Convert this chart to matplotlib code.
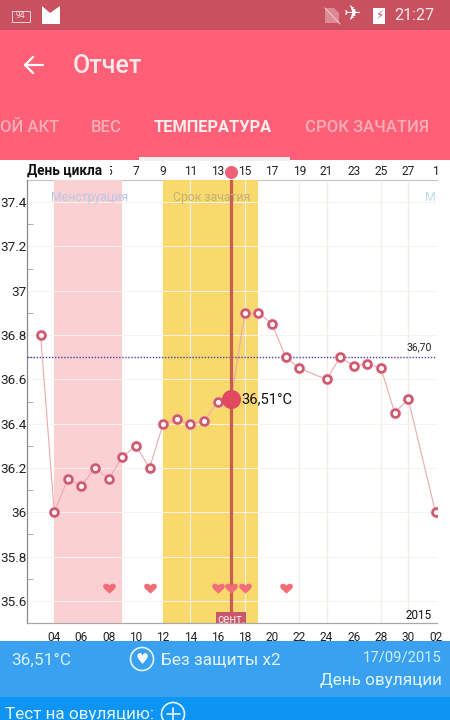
import matplotlib
matplotlib.use("Agg")
import matplotlib.pyplot as plt
from matplotlib.patches import Rectangle, Circle, Polygon
from matplotlib.lines import Line2D
from matplotlib.path import Path
from matplotlib.transforms import IdentityTransform

plt.rcParams['font.family'] = ['Roboto', 'DejaVu Sans']

# ---- data ----
dates = [3, 4, 5, 6, 7, 8, 9, 10, 11, 12, 13, 14, 15, 16, 17, 18, 19, 20, 21, 22, 24, 25, 26, 27, 28, 29, 30, 32]
temps = [36.8, 36.0, 36.15, 36.12, 36.2, 36.15, 36.25, 36.3, 36.2, 36.4, 36.42, 36.4, 36.41, 36.5, 36.51,
         36.9, 36.9, 36.85, 36.7, 36.65, 36.6, 36.7, 36.66, 36.67, 36.65, 36.45, 36.51, 36.0]
selected_date = 17
selected_temp = 36.51
reference_temp = 36.70
heart_dates = [8, 11, 16, 17, 18, 21]
heart_level = 35.66
menses_span = (4, 9)
fertile_span = (12, 19)
y_ticks = [35.6, 35.8, 36, 36.2, 36.4, 36.6, 36.8, 37, 37.2, 37.4]
y_labels = ['35.6', '35.8', '36', '36.2', '36.4', '36.6', '36.8', '37', '37.2', '37.4']
y_minor = [35.7, 35.9, 36.1, 36.3, 36.5, 36.7, 36.9, 37.1, 37.3]
bottom_ticks = list(range(4, 33, 2))
bottom_labels = ['04', '06', '08', '10', '12', '14', '16', '18', '20', '22', '24', '26', '28', '30', '02']
top_ticks = [8, 10, 12, 14, 16, 18, 20, 22, 24, 26, 28, 30, 32]
top_labels = ['5', '7', '9', '11', '13', '15', '17', '19', '21', '23', '25', '27', '1']
grid_dates = [14, 18, 22, 24, 28, 30]
grid_temps = [35.6, 35.8, 36, 36.2, 36.4, 36.6, 36.8, 37, 37.2, 37.4]

W, H = 450, 720
fig = plt.figure(figsize=(W / 100, H / 100), dpi=100, facecolor='white')

heart_marker = Path(
    [(0, -0.8), (-0.5, -0.35), (-1, -0.05), (-1, 0.35), (-1, 0.8), (-0.3, 0.95), (0, 0.45),
     (0.3, 0.95), (1, 0.8), (1, 0.35), (1, -0.05), (0.5, -0.35), (0, -0.8), (0, -0.8)],
    [Path.MOVETO, Path.CURVE4, Path.CURVE4, Path.CURVE4, Path.CURVE4, Path.CURVE4, Path.CURVE4,
     Path.CURVE4, Path.CURVE4, Path.CURVE4, Path.CURVE4, Path.CURVE4, Path.CURVE4, Path.CLOSEPOLY])


def px(x, y):
    return x / W, 1 - y / H


def rect(x0, y0, x1, y1, color, z=5, **kw):
    fig.add_artist(Rectangle(px(x0, y1), (x1 - x0) / W, (y1 - y0) / H, transform=fig.transFigure,
                             facecolor=color, edgecolor='none', zorder=z, **kw))


def label(x, y, s, size, color='white', ha='left', weight='normal', z=6, **kw):
    fx, fy = px(x, y)
    return fig.text(fx, fy, s, fontsize=size, color=color, ha=ha, va='center', fontweight=weight, zorder=z, **kw)


def ring(x, y, r, color='white', lw=1.4, fc='none', z=6):
    fig.add_artist(Circle((x, H - y), r, transform=IdentityTransform(), facecolor=fc, edgecolor=color, lw=lw, zorder=z))


def seg(xs, ys, color='white', lw=1.5, z=6):
    fig.add_artist(Line2D([x / W for x in xs], [1 - y / H for y in ys], transform=fig.transFigure,
                          color=color, lw=lw, zorder=z, solid_capstyle='round'))


# ---- chart ----
L, R, T, B = 27, 437, 180, 623
ax = fig.add_axes([L / W, 1 - B / H, (R - L) / W, (B - T) / H])
ax.set_xlim(2, 32.11)
ax.set_ylim(35.5, 37.5)
ax.patch.set_facecolor('white')

ax.axvspan(*menses_span, color='#fbd0d3', lw=0, zorder=1)
ax.axvspan(*fertile_span, color='#f9d86c', lw=0, zorder=1)
ax.vlines(grid_dates, 35.5, 37.5, color='#f0ece6', lw=0.9, zorder=1.5)
ax.hlines(grid_temps, 2, 32.11, color='#f6f3ee', lw=0.7, zorder=1.5)

ax.plot(dates, temps, color='#eaa9b1', lw=0.8, zorder=3)
ax.axhline(reference_temp, color='#4a3fb0', lw=1.0, ls=(0, (1, 1.2)), zorder=3.2)
ax.plot(dates, temps, ls='none', marker='o', ms=8.6, mfc='#f7b9c2', mec='none', alpha=0.5, zorder=3.4)
ax.plot(dates, temps, ls='none', marker='o', ms=5.6, mfc='#fff6f4', mec='#cc5a72', mew=1.9, zorder=3.5)

ax.axvline(selected_date, color='#c9604f', lw=2.3, zorder=4)
ax.plot([selected_date], [selected_temp], marker='o', ms=13.7, color='#e0495f', mec='none', zorder=5)
ax.annotate('36,51°C', (selected_date, selected_temp), xytext=(7.6, 0), textcoords='offset points',
            fontsize=10.6, color='#111111', va='center', zorder=6)

ax.scatter(heart_dates, [heart_level] * len(heart_dates), marker=heart_marker, s=83, color='#f26d78', lw=0, zorder=4.5)

ax.text(31.72, reference_temp + 0.045, '36,70', fontsize=7.5, color='#222222', ha='right', va='center', zorder=6)
ax.text(31.72, 35.536, '2015', fontsize=8.4, color='#111111', ha='right', va='center', zorder=6)
ax.text(selected_date, 35.518, 'сент.', fontsize=8.6, color='#fde6e6', ha='center', va='center', zorder=6,
        clip_on=True, bbox=dict(facecolor='#c9566a', edgecolor='none', pad=0.6))
ax.text(3.75, 37.42, 'Менструация', fontsize=8.8, color='#b9c6e6', va='center', zorder=6)
ax.text(12.7, 37.42, 'Срок зачатия', fontsize=8.8, color='#bfb27a', va='center', zorder=6)
ax.text(31.2, 37.42, 'М', fontsize=8.8, color='#b9dde8', va='center', zorder=6)

for s in ['top', 'right']:
    ax.spines[s].set_visible(False)
ax.spines['left'].set_color('#8a8a8a')
ax.spines['bottom'].set_color('#a8a8a8')
ax.spines['left'].set_linewidth(0.9)
ax.spines['bottom'].set_linewidth(0.9)

ax.set_yticks(y_ticks)
ax.set_yticklabels(y_labels, fontsize=9.7, color='#222222')
ax.set_yticks(y_minor, minor=True)
ax.tick_params(axis='y', which='major', length=0, pad=0.3)
ax.tick_params(axis='y', which='minor', direction='in', length=4.2, color='#b0b0b0', width=0.7)
ax.set_xticks(bottom_ticks)
ax.set_xticklabels(bottom_labels, fontsize=8.6, color='#222222')
ax.tick_params(axis='x', length=0, pad=5.5)

top = ax.secondary_xaxis('top')
top.set_xticks(top_ticks)
top.set_xticklabels(top_labels, fontsize=8.6, color='#222222')
top.tick_params(length=0, pad=1.7)
top.spines['top'].set_color('#c4c4c4')
top.spines['top'].set_linewidth(0.8)

rect(27, 162, 109.5, 178.5, 'white', z=5)
label(27, 170.7, 'День цикла', 9.8, color='#111111', weight='bold')
ax.plot([selected_date], [37.5 + 8.5 / 221.5], marker='o', ms=9.4, color='#f0607a', mec='none', clip_on=False, zorder=7)

# ---- app chrome ----
rect(0, 0, 450, 30, '#c8505f')
rect(0, 30, 450, 160, '#ff5f77')
rect(139, 157, 290, 160.5, '#f4f0f0', z=6)
rect(0, 641, 450, 697, '#3aa1f1')
rect(0, 697, 450, 720, '#0e95f4')

# status bar
fig.add_artist(Rectangle(px(12, 22), 18 / W, 11 / H, transform=fig.transFigure, facecolor='none',
                         edgecolor='#f5d5d8', lw=0.7, zorder=6))
label(21, 16, '94', 6.2, color='#f5d5d8', ha='center')
fig.add_artist(Polygon([px(42, 6), px(50, 13), px(60, 6), px(60, 24), px(42, 24)], closed=True,
                       transform=fig.transFigure, facecolor='white', edgecolor='none', zorder=6))
fig.add_artist(Polygon([px(325, 8), px(334, 8), px(339, 13), px(339, 23), px(325, 23)], closed=True,
                       transform=fig.transFigure, facecolor='#dc8a94', edgecolor='none', zorder=6))
seg([325, 340], [8, 24], color='#efc5ca', lw=0.8, z=7)
label(353, 15, '\u2708', 15, ha='center')
rect(373, 8, 385, 24, 'white', z=6)
label(379, 16, '\u26a1', 8.5, color='#c8505f', ha='center', z=7, family='DejaVu Sans')
label(394, 15.5, '21:27', 11.6, color='#f7ecec')

# toolbar
seg([25, 43], [65, 65], lw=1.6)
seg([33, 25, 33], [57, 65, 73], lw=1.6)
label(73, 66, 'Отчет', 18, color='#fbe9e9', weight='medium')

# tabs
label(0.5, 127.5, 'ОЙ АКТ', 12, color='#f9afb8', weight='medium')
label(91, 127.5, 'ВЕС', 12, color='#f9afb8', weight='medium')
label(154, 127.5, 'ТЕМПЕРАТУРА', 11.8, color='#fdeeee', weight='bold')
label(305, 127.5, 'СРОК ЗАЧАТИЯ', 12, color='#f9afb8', weight='medium')

# footer
label(11, 660, '36,51°C', 12.4, color='#d4f0fb')
ring(142, 659, 11.5, color='#e3f5fd', lw=1.2)
label(142, 659, '\u2665', 10.5, color='#f3fbff', ha='center', family='DejaVu Sans')
label(161, 660, 'Без защиты x2', 12.4, color='#e3f5fd')
label(441.5, 658, '17/09/2015', 10.7, color='#cdeefb', ha='right')
label(441.5, 681, 'День овуляции', 12.3, color='#e3f5fd', ha='right')
label(5, 714, 'Тест на овуляцию:', 12.3, color='#e3f5fd')
ring(173, 714, 11.5, color='#e3f5fd', lw=1.2)
seg([166.5, 179.5], [714, 714], color='#e3f5fd', lw=1.2)
seg([173, 173], [707.5, 720], color='#e3f5fd', lw=1.2)

fig.savefig('out.png', dpi=100, facecolor='white')
